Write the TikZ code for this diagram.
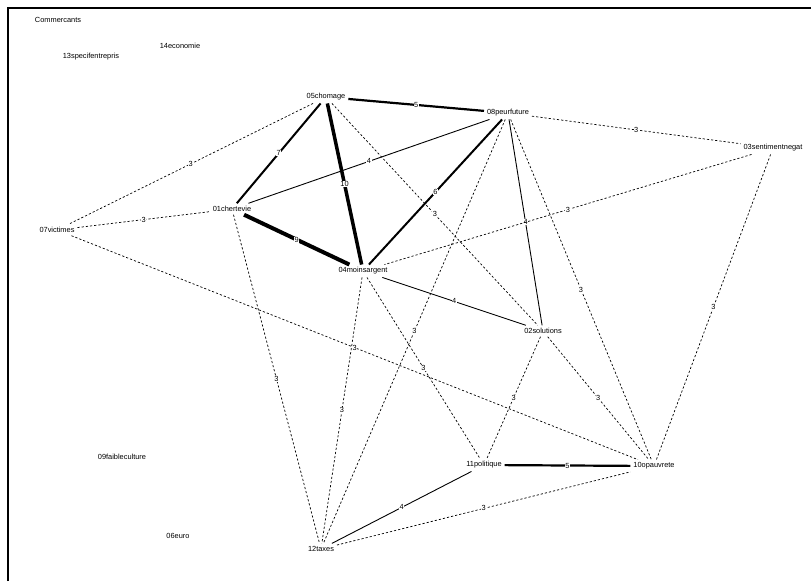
\documentclass[tikz,border=0pt]{standalone}
\usepackage{fontspec}
\setmainfont{Liberation Sans}
\tikzset{
  mot/.style={fill=white,inner sep=1pt,outer sep=2pt},
  poids/.style={fill=white,inner sep=0.5pt},
  w3/.style={dash pattern=on 2.2pt off 2pt,line width=0.7pt},
  w4/.style={line width=0.9pt},
  w5/.style={line width=2.2pt},
  w6/.style={line width=2pt},
  w7/.style={line width=2pt},
  w9/.style={line width=4pt},
  w10/.style={line width=3.5pt}
}

\begin{document}
\begin{tikzpicture}[x=1pt,y=-1pt,font=\fontsize{7.4}{8}\selectfont]
  \useasboundingbox (0,0) rectangle (811,581);
  \draw[line width=1.6pt] (8,581) -- (8,8) -- (811,8);
  \foreach \id/\nom/\x/\y in {
    comm/Commercants/58/20,
    c14/14economie/180/46,
    c13/13specifentrepris/91/57,
    c05/05chomage/326/97,
    c08/08peurfuture/508/113,
    c03/03sentimentnegat/773/148,
    c01/01chertevie/232/209,
    c07/07victimes/57/230,
    c04/04moinsargent/363/271,
    c02/02solutions/543/331,
    c09/09faibleculture/122/457,
    c11/11politique/484/465,
    c10/10opauvrete/654/466,
    c06/06euro/178/536,
    c12/12taxes/321/549}
  {
    \node[mot] (\id) at (\x,\y) {\nom};
  }
  \foreach \a/\b/\wt in {
    c05/c08/5, c05/c01/7, c05/c04/10, c05/c07/3, c05/c02/3,
    c08/c01/4, c08/c04/6, c08/c03/3, c08/c02/4, c08/c10/3, c08/c12/3,
    c03/c04/3, c03/c10/3, c07/c01/3, c07/c10/3, c01/c04/9, c01/c12/3,
    c04/c02/4, c04/c11/3, c04/c12/3, c02/c11/3, c02/c10/3,
    c11/c10/5, c11/c12/4, c12/c10/3}
  {
    \draw[w\wt] (\a) -- node[poids] {\wt} (\b);
  }
\end{tikzpicture}
\end{document}
